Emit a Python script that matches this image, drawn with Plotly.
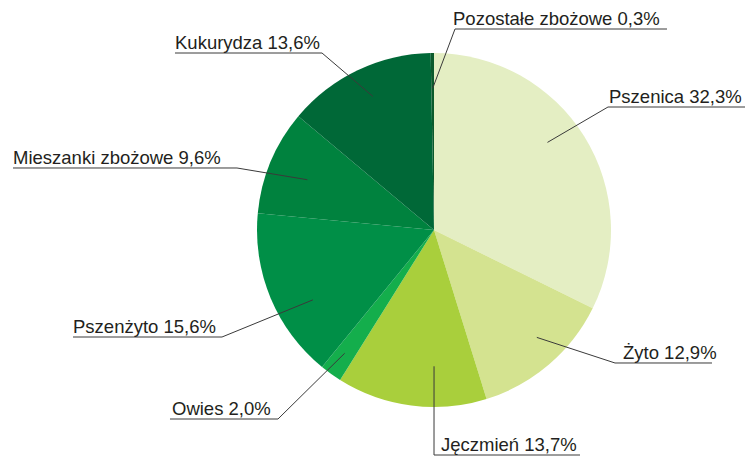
import math
import plotly.graph_objects as go

W, H = 746, 456

# ---- data ----
categories = ["Pszenica", "Żyto", "Jęczmień", "Owies", "Pszenżyto",
              "Mieszanki zbożowe", "Kukurydza", "Pozostałe zbożowe"]
shares = [32.3, 12.9, 13.7, 2.0, 15.6, 9.6, 13.6, 0.3]

# ---- styles ----
colors = ["#E4EEC3", "#D4E390", "#A9CF3C", "#14AE4C", "#008F47",
          "#00823E", "#006837", "#0B5A2C"]

# pie placement (pixels)
px0, px1, py0, py1 = 257, 611, 53, 407
dom_x = [px0 / W, px1 / W]
dom_y = [1 - py1 / H, 1 - py0 / H]
cx, cy, R = (px0 + px1) / 2, (py0 + py1) / 2, (px1 - px0) / 2

# leader line styles: (fraction along slice angle, radius fraction,
#                      elbow x, elbow y, line end x, text start x)
leaders = [
    (0.45, 0.81, 608, 107, 745, 607),
    (0.43, 0.84, 615, 363, 712, 621),
    (0.35, 0.77, 434, 455, 580, 439),
    (0.54, 0.86, 278, 419, 170, 170),
    (0.37, 0.79, 222, 337, 73, 71),
    (0.47, 0.77, 237, 168, 13, 11),
    (0.52, 0.83, 322, 53, 175, 173),
    (0.50, 0.80, 455, 29, 667, 451),
]

fig = go.Figure(go.Pie(
    labels=categories, values=shares, sort=False, direction="clockwise",
    rotation=0, marker=dict(colors=colors, line=dict(width=0)),
    textinfo="none", hoverinfo="label+percent", domain=dict(x=dom_x, y=dom_y),
    showlegend=False,
))

total = sum(shares)
cum = 0.0
shapes, annotations = [], []
for cat, v, (fr, rf, ex, ey, endx, tx) in zip(categories, shares, leaders):
    a0 = cum / total * 360
    a1 = (cum + v) / total * 360
    cum += v
    ang = math.radians(a0 + fr * (a1 - a0))
    ix = cx + rf * R * math.sin(ang)
    iy = cy - rf * R * math.cos(ang)
    pts = [(ix, iy), (ex, ey), (endx, ey)]
    path = "M " + " L ".join(f"{x / W:.5f},{1 - y / H:.5f}" for x, y in pts)
    shapes.append(dict(type="path", path=path, xref="paper", yref="paper",
                       line=dict(color="#3a3a3a", width=1)))
    label = f"{cat} {v:.1f}%".replace(".", ",")
    annotations.append(dict(text=label, x=tx / W, y=1 - (ey + 2) / H,
                            xref="paper", yref="paper", xanchor="left",
                            yanchor="bottom", showarrow=False,
                            font=dict(family="Liberation Sans, Arial, sans-serif",
                                      size=18.5, color="#231F20")))

fig.update_layout(
    width=W, height=H, margin=dict(l=0, r=0, t=0, b=0),
    paper_bgcolor="white", plot_bgcolor="white",
    shapes=shapes, annotations=annotations,
)

fig.write_html("out.html", config={"displayModeBar": False},
               post_script="document.body.style.margin='0';document.body.style.overflow='hidden';")
